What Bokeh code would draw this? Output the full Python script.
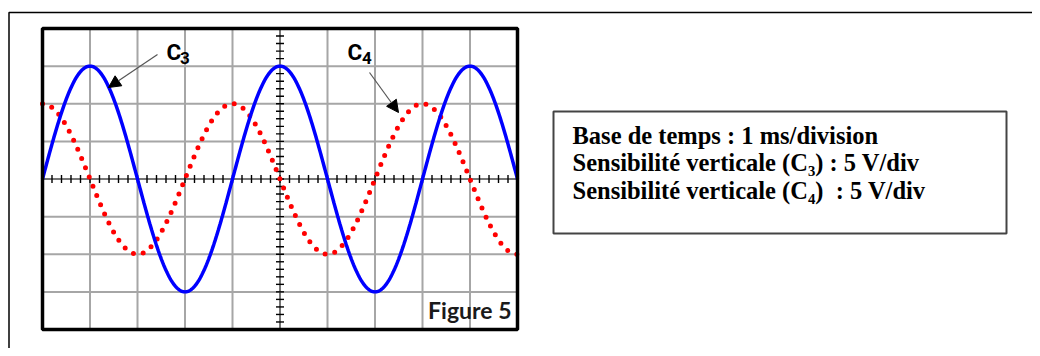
import numpy as np
from bokeh.plotting import figure
from bokeh.models import Range1d, Arrow, NormalHead
from bokeh.core.properties import value
from bokeh.embed import file_html
from bokeh.resources import INLINE

# ---- data (oscilloscope screen, in divisions) ----
n_div_x = 10
n_div_y = 8
c3_amplitude_div = 3.0      # C3 : blue trace
c4_amplitude_div = 2.0      # C4 : red dotted trace
period_div = 4.0            # both traces
c3_phase = 0.0              # sine starts at 0 going up
c4_phase = np.pi / 2        # starts at maximum
info_lines = [
    "Base de temps : 1 ms/division",
    "Sensibilité verticale (C\u2083) : 5 V/div",
    "Sensibilité verticale (C\u2084)\u00a0 : 5 V/div",
]
figure_label = "Figure 5"

# ---- pixel <-> data helpers (layout) ----
PX_PER_DIV_X = 47.5
PX_PER_DIV_Y = 37.625
X0 = 42.0        # px of screen left
YC = 178.5       # px of screen centre line


def dx(X):
    return (X - X0) / PX_PER_DIV_X


def dy(Y):
    return (YC - Y) / PX_PER_DIV_Y


W, H = 1032, 348
p = figure(width=W, height=H, output_backend="svg", toolbar_location=None,
           x_range=Range1d(dx(0), dx(W)), y_range=Range1d(dy(H), dy(0)),
           x_axis_location=None, y_axis_location=None, min_border=0)
p.grid.visible = False
p.outline_line_color = None
p.background_fill_color = "white"
p.border_fill_color = "white"

# outer frame (top and left edges visible)
p.line([dx(8.5), dx(8.5), dx(1040)], [dy(360), dy(12), dy(12)], line_color="black", line_width=1.5)

# screen grid
half_y = n_div_y / 2
gx = np.arange(1, n_div_x)
gy = np.arange(-half_y + 1, half_y)
p.segment(x0=gx, y0=-half_y, x1=gx, y1=half_y, line_color="#a6a6a6", line_width=2)
p.segment(x0=0, y0=gy, x1=n_div_x, y1=gy, line_color="#a6a6a6", line_width=2)

# graduated centre axes
tick_h = 4 / PX_PER_DIV_Y
tick_w = 4 / PX_PER_DIV_X
tx = np.arange(0.2, n_div_x, 0.2)
ty = np.arange(-half_y + 0.2, half_y, 0.2)
p.segment(x0=[0, n_div_x / 2], y0=[0, -half_y], x1=[n_div_x, n_div_x / 2], y1=[0, half_y],
          line_color="#666666", line_width=1.5)
p.segment(x0=tx, y0=-tick_h, x1=tx, y1=tick_h, line_color="black", line_width=1.4)
p.segment(x0=n_div_x / 2 - tick_w, y0=ty, x1=n_div_x / 2 + tick_w, y1=ty, line_color="black", line_width=1.4)

# traces
t = np.linspace(0, n_div_x, 801)
c3 = c3_amplitude_div * np.sin(2 * np.pi * t / period_div + c3_phase)
c4 = c4_amplitude_div * np.sin(2 * np.pi * t / period_div + c4_phase)
p.line(t, c4, line_color="#ff0000", line_width=5, line_dash="0 10", line_cap="round")
p.line(t, c3, line_color="#0000ff", line_width=3.5)

# screen border
p.quad(left=0, right=n_div_x, bottom=-half_y, top=half_y, fill_color=None,
       line_color="black", line_width=3.5)

# curve labels
lab_font = value("Roboto")
p.text(x=[dx(166), dx(347)], y=[dy(51.5), dy(51.5)], text=["C", "C"], text_font=lab_font,
       text_font_style="bold", text_font_size="22.5px", text_baseline="middle",
       text_align="left", text_color="black")
p.text(x=[dx(179.5), dx(361.5)], y=[dy(57), dy(57)], text=["3", "4"], text_font=lab_font,
       text_font_style="bold", text_font_size="17px", text_baseline="middle",
       text_align="left", text_color="black")

# arrows
for (xs, ys, xe, ye) in [(157, 54, 108, 87), (369, 72, 398, 112)]:
    p.add_layout(Arrow(end=NormalHead(size=12, fill_color="black", line_color="black"),
                       x_start=dx(xs), y_start=dy(ys), x_end=dx(xe), y_end=dy(ye),
                       line_color="#555555", line_width=1.2))

# Figure 5 label
p.text(x=[dx(511)], y=[dy(309)], text=[figure_label], text_font=value("Lato"),
       text_font_style="bold", text_font_size="23px", text_baseline="middle",
       text_align="right", text_color="#1a1a1a")

# info box
p.quad(left=dx(553), right=dx(1006), bottom=dy(233), top=dy(111), fill_color="white",
       line_color="#444444", line_width=2)
p.text(x=[dx(572)] * 3, y=[dy(134.5), dy(162), dy(190)], text=info_lines,
       text_font=value("Liberation Serif"), text_font_style="bold", text_font_size="24.5px",
       text_baseline="middle", text_align="left", text_color="black")

open("out.html", "w").write(file_html(p, INLINE))
